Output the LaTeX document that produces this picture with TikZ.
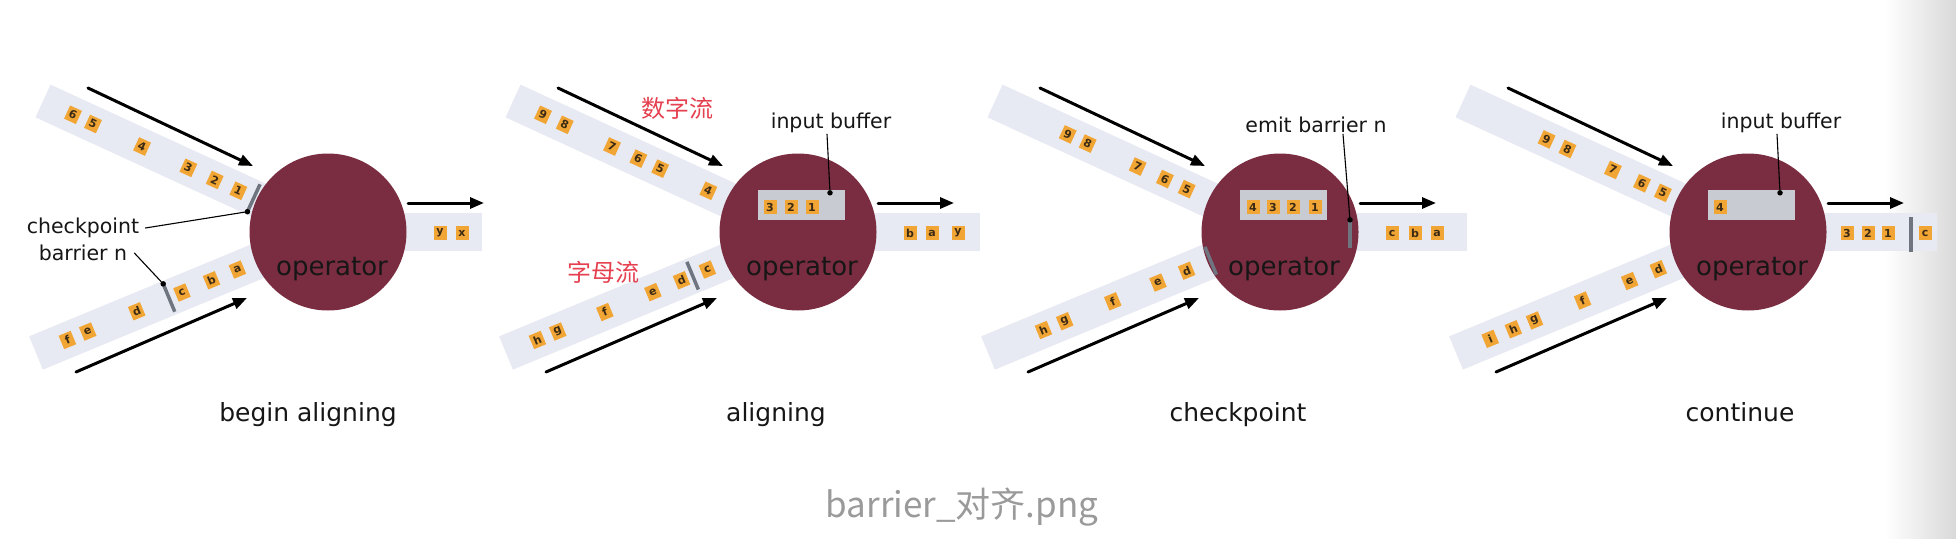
\documentclass[tikz,border=0pt]{standalone}
\usepackage{fontspec}
\setmainfont{DejaVu Sans}
\newfontfamily\cjkfont{Noto Sans CJK SC}
\usepackage{tikz}
\usetikzlibrary{calc,arrows.meta,positioning}
\definecolor{lanegray}{HTML}{E7EAF2}
\definecolor{opfill}{HTML}{7A2D41}
\definecolor{bufgray}{HTML}{C8CBD1}
\definecolor{chipfill}{HTML}{F0A535}
\definecolor{chiptext}{HTML}{3B2A14}
\definecolor{barcol}{HTML}{6F7580}
\definecolor{streamred}{HTML}{E5404F}
\definecolor{capgray}{HTML}{9A9A9A}
\definecolor{ink}{HTML}{161616}
\tikzset{
  lane/.style={draw=lanegray, line width=36pt, line cap=butt},
  outlane/.style={draw=lanegray, line width=38pt, line cap=butt},
  opnode/.style={circle, fill=opfill, minimum size=157pt, inner sep=0pt},
  optext/.style={text=ink, font=\fontsize{26}{30}\selectfont, anchor=base},
  flow/.style={line width=3pt, -{Triangle[length=14pt,width=11pt]}},
  chip/.style={fill=chipfill, text=chiptext, minimum width=13pt,
    minimum height=14.5pt, inner sep=0pt, font=\fontsize{11}{12}\selectfont\bfseries},
  barmark/.style={fill=barcol, minimum width=3.5pt, minimum height=30pt, inner sep=0pt},
  bufbox/.style={fill=bufgray, minimum width=87pt, minimum height=30pt, inner sep=0pt},
  note/.style={text=ink, font=\fontsize{20.5}{24}\selectfont, inner sep=1pt},
  leader/.style={line width=1.1pt},
  dot/.style={circle, fill=black, inner sep=0pt, minimum size=5.5pt},
  caption/.style={text=ink, font=\fontsize{25}{29}\selectfont, anchor=base},
  redtag/.style={text=streamred, font=\cjkfont\fontsize{24}{28}\selectfont}
}
\newcommand{\OpStage}[3]{%
  % #1 = stage id, #2 = x of the operator centre, #3 = length of the output lane
  \coordinate (c#1) at (#2,232);
  \coordinate (up#1) at ($(c#1)+(-285,-131)$);
  \coordinate (lo#1) at ($(c#1)+(-292,121)$);
  \coordinate (out#1) at ($(c#1)+(#3,0)$);
  \draw[lane] (up#1) -- (c#1);
  \draw[lane] (lo#1) -- (c#1);
  \draw[outlane] (c#1) -- (out#1);
  \node[opnode] (op#1) at (c#1) {};
  \node[optext] (opt#1) at ($(c#1)+(4,43)$) {operator};
  \coordinate (ua#1) at ($(c#1)+(-240,-144)$);
  \coordinate (ub#1) at ($(c#1)+(-75,-66)$);
  \coordinate (la#1) at ($(c#1)+(-252,140)$);
  \coordinate (lb#1) at ($(c#1)+(-81,66)$);
  \coordinate (oa#1) at ($(c#1)+(80,-29)$);
  \coordinate (ob#1) at ($(c#1)+(156,-29)$);
  \draw[flow] (ua#1) -- (ub#1);
  \draw[flow] (la#1) -- (lb#1);
  \draw[flow] (oa#1) -- (ob#1);
}
\newcommand{\LaneChips}[4]{%
  % #1 = lane start, #2 = lane end, #3 = tilt, #4 = distance/label list
  \foreach \d/\t in {#4}
    \node[chip, rotate=#3] (#1-\t) at ($(#1)!\d pt!(#2)$) {\t};
}
\newcommand{\RowChips}[3]{%
  % #1 = operator centre, #2 = row offset, #3 = x offset/label list
  \foreach \d/\t in {#3}
    \node[chip] (#1-\t) at ($(#1)+(\d,#2)$) {\t};
}

\begin{document}
\begin{tikzpicture}[x=1pt, y=-1pt, line cap=round, line join=round]
  \useasboundingbox (0,0) rectangle (1956,538);
  \shade[left color=white, right color=black!15] (1885,0) rectangle (1956,538);

  \OpStage{1}{328}{154}
  \OpStage{2}{798}{182}
  \OpStage{3}{1280}{187}
  \OpStage{4}{1748}{189}

  % begin aligning
  \LaneChips{up1}{c1}{-24.7}{33/6,55/5,109/4,160/3,189/2,215/1}
  \LaneChips{lo1}{c1}{22.5}{34/f,56/e,109/d,158/c,190/b,218/a}
  \RowChips{c1}{1}{112/y,134/x}
  \node[barmark, rotate=-24.7] (bu1) at ($(up1)!232pt!(c1)$) {};
  \node[barmark, rotate=22.5] (bl1) at ($(lo1)!144pt!(c1)$) {};
  \node[dot] (du1) at (bu1.south) {};
  \node[dot] (dl1) at (bl1.north) {};
  \node[note] (cpA) at (83,228) {checkpoint};
  \node[note] (cpB) at (83,253) {barrier n};
  \draw[leader] ([xshift=5pt]cpA.east) -- (du1);
  \draw[leader] ([xshift=6pt]cpB.east) -- (dl1);

  % aligning
  \LaneChips{up2}{c2}{-24.7}{33/9,57/8,109/7,138/6,162/5,215/4}
  \LaneChips{lo2}{c2}{22.5}{34/h,56/g,107/f,159/e,190/d,218/c}
  \node[barmark, rotate=22.5] (bl2) at ($(lo2)!202pt!(c2)$) {};
  \node[bufbox] (buf2) at ($(c2)+(3.5,-27)$) {};
  \RowChips{c2}{-25}{-28/3,-7/2,14/1}
  \RowChips{c2}{1}{112/b,134/a,160/y}
  \node[note] (ib2) at ($(c2)+(33,-109)$) {input buffer};
  \node[dot] (bd2) at ($(buf2.north)+(28.5,3)$) {};
  \draw[leader] ([xshift=-4pt]ib2.south) -- (bd2);
  \node[redtag] (num2) at (677,108) {数字流};
  \node[redtag] (abc2) at (603,272) {字母流};

  % checkpoint
  \LaneChips{up3}{c3}{-24.7}{80/9,102/8,157/7,187/6,211/5}
  \LaneChips{lo3}{c3}{22.5}{60/h,83/g,135/f,184/e,215/d}
  \node[barmark, rotate=22.5] (bl3) at ($(lo3)!241pt!(c3)$) {};
  \node[bufbox] (buf3) at ($(c3)+(3.5,-27)$) {};
  \RowChips{c3}{-25}{-27/4,-7/3,13/2,35/1}
  \RowChips{c3}{1}{112/c,135/b,157/a}
  \node[barmark, minimum height=28pt] (bo3) at ($(c3)+(70,2)$) {};
  \node[dot] (bd3) at (bo3.north) {};
  \node[note] (eb3) at ($(c3)+(36,-107)$) {emit barrier n};
  \draw[leader] ([xshift=27pt]eb3.south) -- (bd3);

  % continue
  \LaneChips{up4}{c4}{-24.7}{92/9,115/8,165/7,197/6,220/5}
  \LaneChips{lo4}{c4}{22.5}{37/i,62/h,85/g,137/f,188/e,219/d}
  \node[bufbox] (buf4) at ($(c4)+(3.5,-27)$) {};
  \RowChips{c4}{-25}{-28/4}
  \RowChips{c4}{1}{99/3,120/2,140/1,177/c}
  \node[barmark, minimum height=35pt] (bo4) at ($(c4)+(163,2)$) {};
  \node[note] (ib4) at ($(c4)+(33,-109)$) {input buffer};
  \node[dot] (bd4) at ($(buf4.north)+(28.5,3)$) {};
  \draw[leader] ([xshift=-4pt]ib4.south) -- (bd4);

  \node[caption] (cap1) at (308,421) {begin aligning};
  \node[caption] (cap2) at (776,421) {aligning};
  \node[caption] (cap3) at (1238,421) {checkpoint};
  \node[caption] (cap4) at (1740,421) {continue};
  \node[text=capgray, font=\cjkfont\fontsize{35}{40}\selectfont, anchor=base] (file) at (962,517) {barrier\_对齐.png};
\end{tikzpicture}
\end{document}
